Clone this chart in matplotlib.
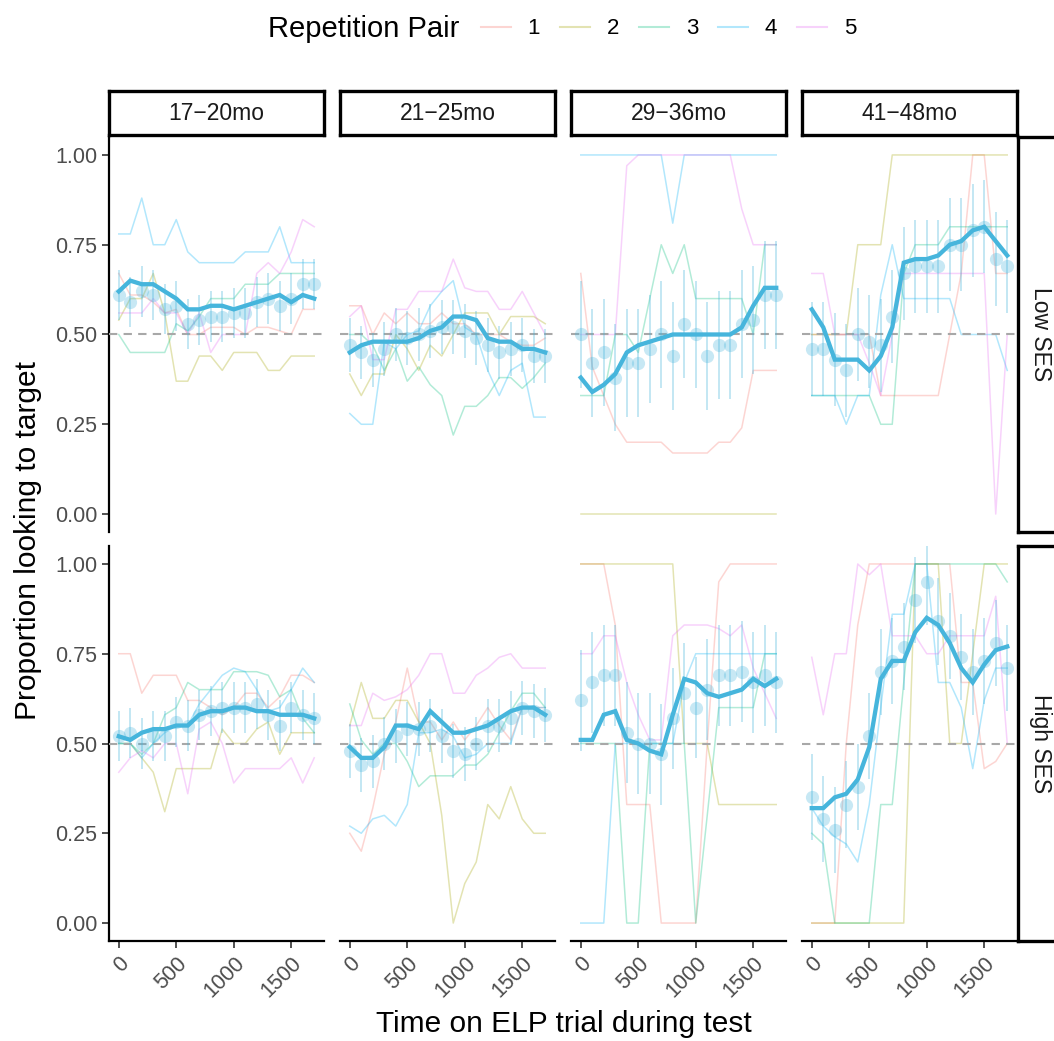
import matplotlib
matplotlib.use("Agg")
import matplotlib.pyplot as plt
from matplotlib.lines import Line2D

plt.rcParams["font.family"] = ["Liberation Sans", "DejaVu Sans"]

time_ms = [0, 100, 200, 300, 400, 500, 600, 700, 800, 900,
           1000, 1100, 1200, 1300, 1400, 1500, 1600, 1700]
age_groups = ["17\u221220mo", "21\u221225mo", "29\u221236mo", "41\u221248mo"]
ses_groups = ["Low SES", "High SES"]
pair_labels = ["1", "2", "3", "4", "5"]
pair_colors = ["#F8766D", "#A3A500", "#00BF7D", "#00B0F6", "#E76BF3"]
x_ticks = [0, 500, 1000, 1500]
y_ticks = [0.0, 0.25, 0.5, 0.75, 1.0]

# ---- Low SES ----
low_a1_pairs = [
    [0.67, 0.61, 0.61, 0.59, 0.56, 0.57, 0.50, 0.50, 0.52, 0.52, 0.52, 0.50, 0.52, 0.52, 0.51, 0.50, 0.57, 0.57],
    [0.54, 0.60, 0.60, 0.67, 0.56, 0.37, 0.37, 0.44, 0.44, 0.40, 0.45, 0.45, 0.45, 0.40, 0.40, 0.44, 0.44, 0.44],
    [0.50, 0.45, 0.45, 0.45, 0.45, 0.53, 0.51, 0.55, 0.60, 0.60, 0.60, 0.64, 0.64, 0.64, 0.67, 0.67, 0.67, 0.67],
    [0.78, 0.78, 0.88, 0.75, 0.75, 0.82, 0.73, 0.70, 0.70, 0.70, 0.70, 0.73, 0.73, 0.73, 0.80, 0.70, 0.70, 0.70],
    [0.56, 0.56, 0.56, 0.60, 0.56, 0.56, 0.50, 0.56, 0.45, 0.50, 0.50, 0.50, 0.67, 0.70, 0.67, 0.73, 0.82, 0.80],
]
low_a1_mean = [0.61, 0.59, 0.62, 0.61, 0.57, 0.58, 0.53, 0.54, 0.55, 0.55, 0.56, 0.56, 0.59, 0.60, 0.58, 0.60, 0.64, 0.64]
low_a1_smooth = [0.62, 0.65, 0.64, 0.64, 0.62, 0.60, 0.57, 0.57, 0.58, 0.58, 0.57, 0.58, 0.59, 0.60, 0.61, 0.59, 0.61, 0.60]

low_a2_pairs = [
    [0.58, 0.58, 0.50, 0.56, 0.53, 0.56, 0.53, 0.53, 0.56, 0.53, 0.53, 0.50, 0.50, 0.50, 0.48, 0.47, 0.47, 0.49],
    [0.39, 0.33, 0.39, 0.39, 0.50, 0.46, 0.40, 0.47, 0.44, 0.50, 0.56, 0.56, 0.56, 0.50, 0.55, 0.55, 0.55, 0.53],
    [0.50, 0.50, 0.47, 0.40, 0.46, 0.37, 0.41, 0.36, 0.33, 0.22, 0.30, 0.30, 0.33, 0.38, 0.38, 0.35, 0.38, 0.42],
    [0.28, 0.25, 0.25, 0.48, 0.46, 0.50, 0.51, 0.58, 0.62, 0.65, 0.52, 0.50, 0.40, 0.33, 0.40, 0.42, 0.27, 0.27],
    [0.55, 0.58, 0.43, 0.43, 0.57, 0.57, 0.62, 0.62, 0.62, 0.71, 0.63, 0.62, 0.62, 0.57, 0.57, 0.62, 0.56, 0.50],
]
low_a2_mean = [0.47, 0.45, 0.43, 0.46, 0.50, 0.49, 0.50, 0.51, 0.52, 0.52, 0.51, 0.49, 0.47, 0.45, 0.46, 0.47, 0.44, 0.44]
low_a2_smooth = [0.45, 0.47, 0.48, 0.48, 0.48, 0.48, 0.49, 0.51, 0.52, 0.55, 0.55, 0.54, 0.49, 0.48, 0.48, 0.46, 0.46, 0.45]

low_a3_pairs = [
    [0.67, 0.41, 0.33, 0.25, 0.20, 0.20, 0.20, 0.20, 0.17, 0.17, 0.17, 0.17, 0.20, 0.20, 0.24, 0.40, 0.40, 0.40],
    [0.0] * 18,
    [0.33, 0.33, 0.33, 0.50, 0.50, 0.45, 0.60, 0.75, 0.67, 0.75, 0.60, 0.60, 0.60, 0.60, 0.60, 0.50, 0.75, 0.75],
    [1.0, 1.0, 1.0, 1.0, 1.0, 1.0, 1.0, 1.0, 0.81, 1.0, 1.0, 1.0, 1.0, 1.0, 1.0, 1.0, 1.0, 1.0],
    [0.50, 0.50, 0.50, 0.50, 0.97, 1.0, 1.0, 1.0, 1.0, 1.0, 1.0, 1.0, 1.0, 1.0, 0.85, 0.75, 0.75, 0.75],
]
low_a3_mean = [0.50, 0.42, 0.45, 0.38, 0.42, 0.42, 0.46, 0.50, 0.44, 0.53, 0.50, 0.44, 0.47, 0.47, 0.53, 0.54, 0.61, 0.61]
low_a3_smooth = [0.38, 0.34, 0.36, 0.39, 0.45, 0.47, 0.48, 0.49, 0.50, 0.50, 0.50, 0.50, 0.50, 0.50, 0.52, 0.58, 0.63, 0.63]

low_a4_pairs = [
    [0.50, 0.50, 0.50, 0.50, 0.50, 0.50, 0.33, 0.33, 0.33, 0.33, 0.33, 0.33, 0.50, 0.67, 1.0, 1.0, 0.67, 0.67],
    [0.50, 0.50, 0.50, 0.50, 0.75, 0.75, 0.75, 1.0, 1.0, 1.0, 1.0, 1.0, 1.0, 1.0, 1.0, 1.0, 1.0, 1.0],
    [0.33, 0.33, 0.33, 0.33, 0.33, 0.33, 0.25, 0.25, 0.67, 0.75, 0.75, 0.75, 0.80, 0.80, 0.80, 0.80, 0.80, 0.80],
    [0.33, 0.33, 0.33, 0.25, 0.33, 0.33, 0.61, 0.75, 0.60, 0.60, 0.60, 0.60, 0.60, 0.50, 0.50, 0.50, 0.50, 0.40],
    [0.67, 0.67, 0.50, 0.50, 0.50, 0.42, 0.33, 0.50, 0.67, 0.67, 0.67, 0.67, 0.67, 0.67, 0.67, 0.67, 0.0, 0.50],
]
low_a4_mean = [0.46, 0.46, 0.43, 0.40, 0.50, 0.48, 0.47, 0.55, 0.67, 0.69, 0.69, 0.69, 0.75, 0.75, 0.79, 0.80, 0.71, 0.69]
low_a4_smooth = [0.57, 0.52, 0.43, 0.43, 0.43, 0.40, 0.44, 0.52, 0.70, 0.71, 0.71, 0.72, 0.75, 0.76, 0.79, 0.80, 0.76, 0.72]

# ---- High SES ----
high_a1_pairs = [
    [0.75, 0.75, 0.64, 0.69, 0.69, 0.69, 0.62, 0.62, 0.60, 0.58, 0.60, 0.64, 0.64, 0.60, 0.63, 0.69, 0.69, 0.67],
    [0.50, 0.50, 0.46, 0.42, 0.31, 0.43, 0.43, 0.43, 0.43, 0.54, 0.50, 0.50, 0.54, 0.56, 0.47, 0.53, 0.53, 0.53],
    [0.50, 0.50, 0.47, 0.50, 0.58, 0.60, 0.67, 0.65, 0.65, 0.65, 0.70, 0.70, 0.70, 0.69, 0.63, 0.65, 0.57, 0.53],
    [0.50, 0.50, 0.46, 0.50, 0.53, 0.55, 0.55, 0.61, 0.65, 0.69, 0.71, 0.70, 0.65, 0.59, 0.60, 0.65, 0.71, 0.67],
    [0.42, 0.46, 0.48, 0.46, 0.50, 0.50, 0.36, 0.54, 0.56, 0.50, 0.39, 0.43, 0.43, 0.43, 0.43, 0.46, 0.39, 0.46],
]
high_a1_mean = [0.52, 0.53, 0.50, 0.52, 0.52, 0.56, 0.55, 0.58, 0.59, 0.60, 0.60, 0.60, 0.61, 0.58, 0.55, 0.60, 0.58, 0.57]
high_a1_smooth = [0.52, 0.51, 0.53, 0.54, 0.54, 0.55, 0.55, 0.58, 0.59, 0.59, 0.60, 0.60, 0.59, 0.59, 0.58, 0.58, 0.58, 0.57]

high_a2_pairs = [
    [0.25, 0.20, 0.32, 0.47, 0.56, 0.71, 0.56, 0.56, 0.51, 0.56, 0.51, 0.55, 0.60, 0.55, 0.51, 0.60, 0.60, 0.60],
    [0.55, 0.67, 0.57, 0.57, 0.62, 0.62, 0.56, 0.50, 0.30, 0.0, 0.11, 0.17, 0.33, 0.29, 0.38, 0.29, 0.25, 0.25],
    [0.61, 0.51, 0.47, 0.50, 0.50, 0.45, 0.38, 0.41, 0.41, 0.41, 0.44, 0.44, 0.47, 0.53, 0.59, 0.64, 0.64, 0.60],
    [0.27, 0.25, 0.29, 0.30, 0.27, 0.33, 0.53, 0.53, 0.54, 0.52, 0.46, 0.47, 0.50, 0.50, 0.50, 0.60, 0.60, 0.60],
    [0.55, 0.55, 0.64, 0.62, 0.63, 0.65, 0.69, 0.75, 0.75, 0.64, 0.64, 0.69, 0.71, 0.74, 0.75, 0.71, 0.71, 0.71],
]
high_a2_mean = [0.48, 0.44, 0.45, 0.50, 0.52, 0.54, 0.54, 0.55, 0.52, 0.48, 0.47, 0.50, 0.55, 0.55, 0.57, 0.60, 0.59, 0.58]
high_a2_smooth = [0.49, 0.46, 0.46, 0.49, 0.55, 0.55, 0.54, 0.59, 0.56, 0.53, 0.53, 0.54, 0.55, 0.57, 0.59, 0.60, 0.60, 0.58]

high_a3_pairs = [
    [1.0, 1.0, 1.0, 0.83, 0.33, 0.33, 0.33, 0.0, 0.0, 0.0, 0.0, 0.50, 0.95, 1.0, 1.0, 1.0, 1.0, 1.0],
    [1.0, 1.0, 1.0, 1.0, 1.0, 1.0, 1.0, 1.0, 1.0, 0.50, 0.50, 0.50, 0.33, 0.33, 0.33, 0.33, 0.33, 0.33],
    [0.50, 0.50, 0.50, 0.50, 0.0, 0.0, 0.50, 0.50, 0.50, 0.50, 0.0, 0.30, 0.60, 0.60, 0.60, 0.60, 0.75, 0.75],
    [0.0, 0.0, 0.0, 0.50, 0.50, 0.50, 0.50, 0.50, 0.50, 0.67, 0.75, 0.75, 0.75, 0.75, 0.75, 0.75, 0.75, 0.75],
    [0.75, 0.75, 0.80, 0.80, 0.67, 0.58, 0.51, 0.51, 0.80, 0.83, 0.83, 0.83, 0.82, 0.80, 0.83, 0.71, 0.64, 0.57],
]
high_a3_mean = [0.62, 0.67, 0.69, 0.69, 0.53, 0.50, 0.50, 0.47, 0.57, 0.64, 0.60, 0.65, 0.69, 0.69, 0.70, 0.67, 0.69, 0.67]
high_a3_smooth = [0.51, 0.51, 0.58, 0.59, 0.51, 0.50, 0.48, 0.47, 0.58, 0.68, 0.67, 0.64, 0.63, 0.64, 0.65, 0.68, 0.66, 0.68]

high_a4_pairs = [
    [0.0, 0.0, 0.0, 0.50, 0.83, 1.0, 1.0, 1.0, 1.0, 1.0, 1.0, 1.0, 1.0, 0.67, 0.67, 0.43, 0.45, 0.50],
    [0.0, 0.0, 0.0, 0.0, 0.0, 0.0, 0.0, 0.0, 0.0, 1.0, 1.0, 1.0, 0.50, 0.50, 0.75, 1.0, 1.0, 1.0],
    [0.25, 0.22, 0.0, 0.0, 0.0, 0.0, 0.33, 0.33, 0.67, 1.0, 1.0, 1.0, 1.0, 1.0, 1.0, 1.0, 1.0, 0.95],
    [0.32, 0.27, 0.24, 0.22, 0.17, 0.33, 0.60, 0.86, 0.86, 1.0, 1.0, 0.67, 0.67, 0.60, 0.43, 0.62, 0.71, 0.71],
    [0.74, 0.58, 0.75, 0.75, 1.0, 0.97, 1.0, 0.80, 0.80, 0.80, 0.75, 0.75, 0.80, 0.80, 0.80, 0.80, 0.91, 0.50],
]
high_a4_mean = [0.35, 0.29, 0.26, 0.33, 0.38, 0.52, 0.70, 0.73, 0.77, 0.90, 0.95, 0.84, 0.80, 0.74, 0.70, 0.73, 0.78, 0.71]
high_a4_smooth = [0.32, 0.32, 0.35, 0.36, 0.40, 0.49, 0.68, 0.73, 0.73, 0.81, 0.85, 0.83, 0.78, 0.71, 0.67, 0.72, 0.76, 0.77]

# standard errors per panel (rows: Low, High; columns: age groups)
low_se = [0.07, 0.075, 0.15, 0.13]
high_se = [0.07, 0.075, 0.14, 0.12]

panels = [
    [(low_a1_pairs, low_a1_mean, low_a1_smooth), (low_a2_pairs, low_a2_mean, low_a2_smooth),
     (low_a3_pairs, low_a3_mean, low_a3_smooth), (low_a4_pairs, low_a4_mean, low_a4_smooth)],
    [(high_a1_pairs, high_a1_mean, high_a1_smooth), (high_a2_pairs, high_a2_mean, high_a2_smooth),
     (high_a3_pairs, high_a3_mean, high_a3_smooth), (high_a4_pairs, high_a4_mean, high_a4_smooth)],
]
panel_se = [low_se, high_se]

mean_color = "#46B5DC"
W, H = 1054, 1041


def box(left, top, width, height):
    return [left / W, 1 - (top + height) / H, width / W, height / H]


fig = plt.figure(figsize=(W / 100, H / 100), dpi=100)

col_left = [109, 340, 571, 802]
row_top = [137, 546]
pw, ph = 215, 395

for r in range(2):
    for c in range(4):
        ax = fig.add_axes(box(col_left[c], row_top[r], pw, ph))
        pairs, mean, smooth = panels[r][c]
        for vals, color in zip(pairs, pair_colors):
            ax.plot(time_ms, vals, color=color, alpha=0.3, lw=1.1, zorder=2)
        ax.axhline(0.5, color="#A8A8A8", ls=(0, (4, 3)), lw=1.5, zorder=3)
        se = panel_se[r][c]
        ax.errorbar(time_ms, mean, yerr=se, fmt="none", ecolor=mean_color,
                    alpha=0.35, elinewidth=1.3, capsize=0, zorder=4)
        ax.plot(time_ms, mean, "o", color=mean_color, alpha=0.3, ms=9.5,
                mec="none", zorder=5)
        ax.plot(time_ms, smooth, color=mean_color, lw=3.1, zorder=6,
                solid_joinstyle="miter")

        ax.set_xlim(-85, 1785)
        ax.set_ylim(-0.05, 1.05)
        for side in ["top", "right"]:
            ax.spines[side].set_visible(False)
        ax.spines["left"].set_linewidth(1.6)
        ax.spines["bottom"].set_linewidth(1.6)
        ax.tick_params(colors="#333333", width=1.2, length=5,
                       labelcolor="#4D4D4D", labelsize=15.5)
        ax.set_yticks(y_ticks)
        ax.set_xticks(x_ticks)
        if c == 0:
            ax.set_yticklabels([f"{v:.2f}" for v in y_ticks])
        else:
            ax.spines["left"].set_visible(False)
            ax.tick_params(axis="y", left=False, labelleft=False)
        if r == 1:
            ax.set_xticklabels([str(v) for v in x_ticks], rotation=45,
                               ha="right", va="top", rotation_mode="anchor")
        else:
            ax.spines["bottom"].set_visible(False)
            ax.tick_params(axis="x", bottom=False, labelbottom=False)

        if r == 0:
            sax = fig.add_axes(box(col_left[c], 91, pw, 44))
            sax.set_xticks([])
            sax.set_yticks([])
            for s in sax.spines.values():
                s.set_linewidth(2.4)
            sax.text(0.5, 0.5, age_groups[c], ha="center", va="center",
                     fontsize=16.5, color="#1A1A1A", transform=sax.transAxes)
    rax = fig.add_axes(box(1018, row_top[r], 46, ph))
    rax.set_xticks([])
    rax.set_yticks([])
    for s in rax.spines.values():
        s.set_linewidth(2.4)
    rax.text(0.48, 0.5, ses_groups[r], ha="center", va="center", rotation=-90,
             fontsize=16.5, color="#1A1A1A", transform=rax.transAxes)

fig.text(28 / W, 1 - 541 / H, "Proportion looking to target", rotation=90,
         ha="center", va="center", fontsize=21.5)
fig.text(564 / W, 1 - 1024 / H, "Time on ELP trial during test",
         ha="center", va="center", fontsize=21.5)

fig.text(268 / W, 1 - 29 / H, "Repetition Pair", ha="left", va="center",
         fontsize=21)
handles = [Line2D([0], [0], color=col, alpha=0.3, lw=1.5) for col in pair_colors]
fig.legend(handles, pair_labels, ncol=5, frameon=False, loc="center left",
           bbox_to_anchor=(481 / W, 1 - 29 / H), fontsize=16,
           handlelength=1.35, handletextpad=0.75, columnspacing=0.9,
           borderaxespad=0, borderpad=0)

fig.savefig("out.png", dpi=100)
